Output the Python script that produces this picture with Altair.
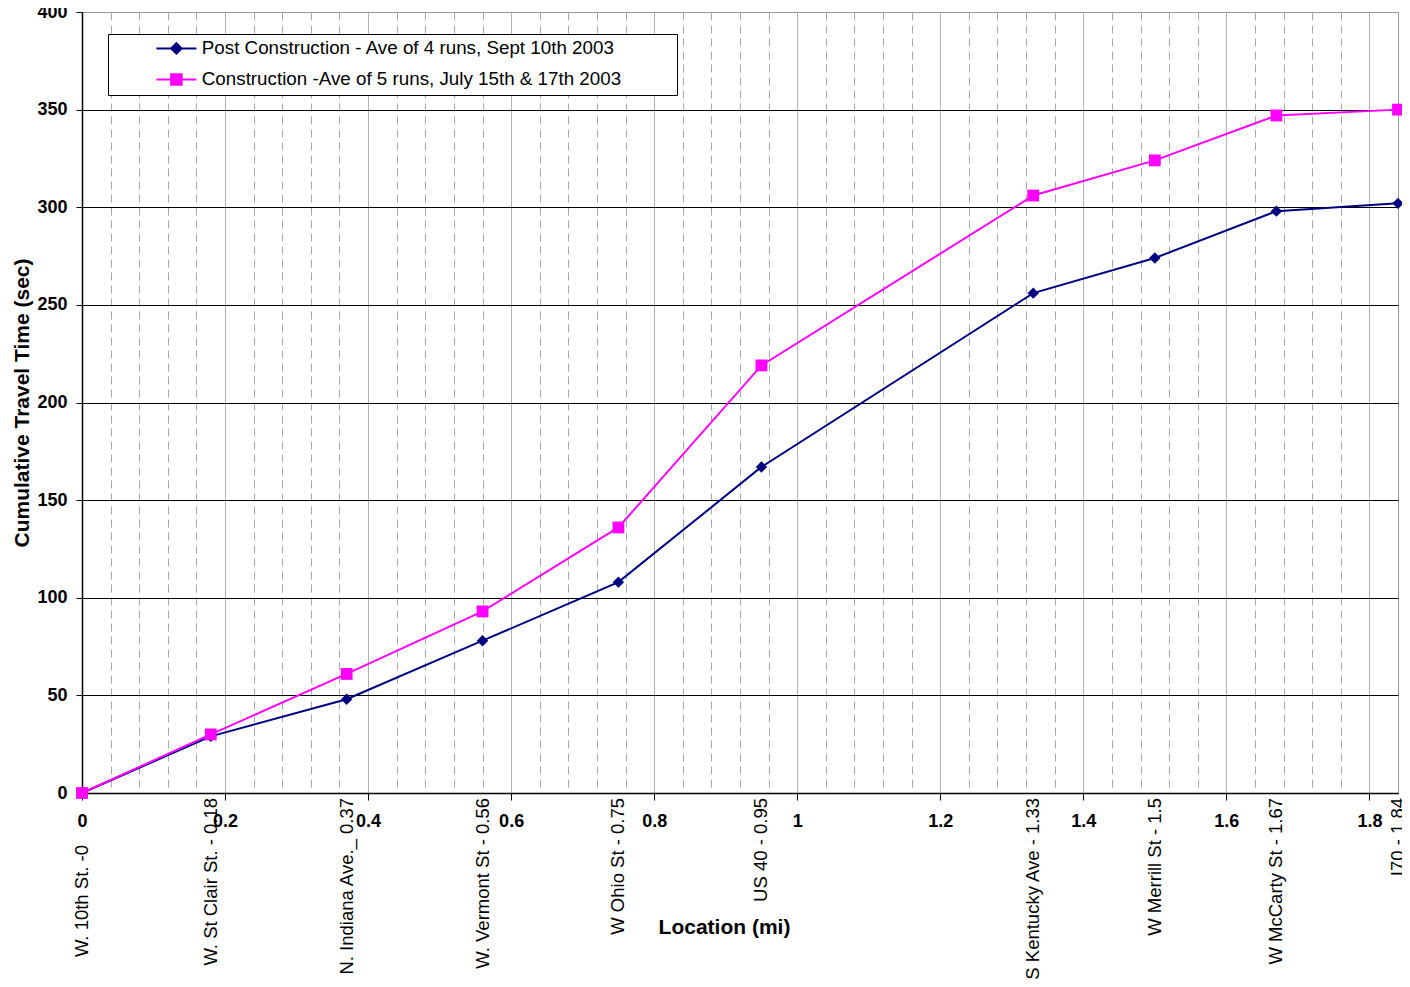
import altair as alt
import pandas as pd

# ---- data ----
locations = ["W. 10th St. -0", "W. St Clair St. - 0.18", "N. Indiana Ave._ 0.37",
             "W. Vermont St - 0.56", "W Ohio St - 0.75", "US 40 - 0.95",
             "S Kentucky Ave - 1.33", "W Merrill St - 1.5", "W McCarty St - 1.67",
             "I70 - 1.84"]
miles = [0, 0.18, 0.37, 0.56, 0.75, 0.95, 1.33, 1.5, 1.67, 1.84]
post_times = [0, 29, 48, 78, 108, 167, 256, 274, 298, 302]
constr_times = [0, 30, 61, 93, 136, 219, 306, 324, 347, 350]
series_names = ["Post Construction - Ave of 4 runs, Sept 10th 2003",
                "Construction -Ave  of 5 runs, July 15th & 17th  2003"]
series_colors = ["#000080", "#FF00FF"]
y_ticks = [0, 50, 100, 150, 200, 250, 300, 350, 400]
x_ticks = [round(i * 0.04, 2) for i in range(46)]  # 0 .. 1.80, major every 0.2

FONT = "Liberation Sans"

rows = []
for name, vals in zip(series_names, [post_times, constr_times]):
    for m, v in zip(miles, vals):
        rows.append({"series": name, "mile": m, "time": v})
df = pd.DataFrame(rows)
df_loc = pd.DataFrame({"mile": miles, "loc": locations})

is_major = "abs(datum.value*5 - round(datum.value*5)) < 0.001"

x_scale = alt.Scale(domain=[0, 1.84], nice=False, zero=False)
y_scale = alt.Scale(domain=[0, 400], nice=False)

x_axis = alt.Axis(
    values=x_ticks, tickCount=200,
    title="Location (mi)",
    titleFont=FONT, titleFontSize=21, titleFontWeight="bold", titleColor="black",
    titleX=642, titleY=123, titleBaseline="top",
    labelExpr=f"({is_major}) ? format(datum.value, '') : ''",
    labelFont=FONT, labelFontSize=18, labelFontWeight="bold", labelColor="black",
    labelPadding=12, labelFlush=False, labelOverlap=False,
    tickSize=7, tickColor="black",
    tickOpacity={"condition": {"test": is_major, "value": 1}, "value": 0},
    domainColor="black", domainWidth=1.5,
    grid=True,
    gridColor={"condition": {"test": is_major, "value": "#999999"}, "value": "#a8a8a8"},
    gridDash={"condition": {"test": is_major, "value": [1, 0]}, "value": [8, 5]},
    gridWidth=1,
)

y_axis = alt.Axis(
    values=y_ticks, tickCount=50,
    title="Cumulative Travel Time (sec)",
    titleFont=FONT, titleFontSize=21, titleFontWeight="bold", titleColor="black",
    titlePadding=4,
    labelFont=FONT, labelFontSize=18, labelFontWeight="bold", labelColor="black",
    labelPadding=9, labelFlush=False,
    tickSize=6, tickColor="black",
    domainColor="black", domainWidth=1.5,
    grid=True,
    gridColor={"condition": {"test": "datum.value >= 400", "value": "#999999"}, "value": "#000000"},
    gridWidth=1,
)

col_scale = alt.Scale(domain=series_names, range=series_colors)

diamond_path = "M-4,0H4M0,-1.05L1.05,0L0,1.05L-1.05,0Z"
square_path = "M-4,0H4M-1.05,-1.05H1.05V1.05H-1.05Z"

legend = alt.Legend(
    title=".", titleOrient="right", titleOpacity=0, titleFontSize=10, titlePadding=37,
    orient="none", legendX=26, legendY=22, direction="vertical",
    fillColor="white", strokeColor="black", padding=5,
    symbolSize=100, symbolOffset=54, labelOffset=16, rowPadding=11,
    symbolStrokeWidth=2, symbolOpacity=1,
    labelFont=FONT, labelFontSize=18.8, labelColor="black", labelLimit=1000,
)

base = alt.Chart(df)

# legend-only layer (no data drawn; entries come from the explicit scale domains)
legend_layer = base.transform_filter("false").mark_point(opacity=1, strokeWidth=2, filled=False).encode(
    x=alt.X("mile:Q", scale=x_scale),
    y=alt.Y("time:Q", scale=y_scale),
    fill=alt.Fill("series:N", scale=col_scale, legend=legend),
    stroke=alt.Stroke("series:N", scale=col_scale, legend=legend),
    shape=alt.Shape("series:N", scale=alt.Scale(domain=series_names, range=[diamond_path, square_path]),
                    legend=legend),
)

lines = base.mark_line(strokeWidth=2).encode(
    x=alt.X("mile:Q", scale=x_scale, axis=x_axis),
    y=alt.Y("time:Q", scale=y_scale, axis=y_axis),
    stroke=alt.Stroke("series:N", scale=col_scale, legend=legend),
    detail="series:N",
)

pts_post = base.transform_filter(alt.datum.series == series_names[0]).mark_point(
    filled=True, shape="diamond", size=130, opacity=1, strokeWidth=0,
).encode(
    x=alt.X("mile:Q", scale=x_scale),
    y=alt.Y("time:Q", scale=y_scale),
    fill=alt.Fill("series:N", scale=col_scale, legend=legend),
)
pts_con = base.transform_filter(alt.datum.series == series_names[1]).mark_point(
    filled=True, shape="square", size=140, opacity=1, strokeWidth=0,
).encode(
    x=alt.X("mile:Q", scale=x_scale),
    y=alt.Y("time:Q", scale=y_scale),
    fill=alt.Fill("series:N", scale=col_scale, legend=legend),
)

loc_base = alt.Chart(df_loc)
loc_labels = loc_base.transform_filter("datum.mile > 0").mark_text(
    angle=270, align="right", baseline="middle", dx=-5,
    font=FONT, fontSize=18.5, color="black",
).encode(
    x=alt.X("mile:Q", scale=x_scale),
    y=alt.datum(0),
    text="loc:N",
)
loc_first = loc_base.transform_filter("datum.mile == 0").mark_text(
    angle=270, align="right", baseline="middle", dx=-52,
    font=FONT, fontSize=18.5, color="black",
).encode(
    x=alt.X("mile:Q", scale=x_scale),
    y=alt.datum(0),
    text="loc:N",
)

chart = alt.layer(legend_layer, lines, pts_post, pts_con, loc_labels, loc_first).properties(
    width=1316, height=781,
    autosize=alt.AutoSizeParams(type="none"),
    padding={"left": 74, "top": 4, "right": 4, "bottom": 186},
    title=alt.TitleParams(
        "PM Peak SB - Cumulative Travel Time",
        font=FONT, fontSize=21, fontWeight="bold", color="black",
        anchor="middle", dx=-42, offset=-12, baseline="alphabetic", frame="group",
    ),
).configure(font=FONT).configure_view(stroke="#999999", strokeWidth=1)

chart.save("out.html", embed_options={"renderer": "svg", "actions": False})
